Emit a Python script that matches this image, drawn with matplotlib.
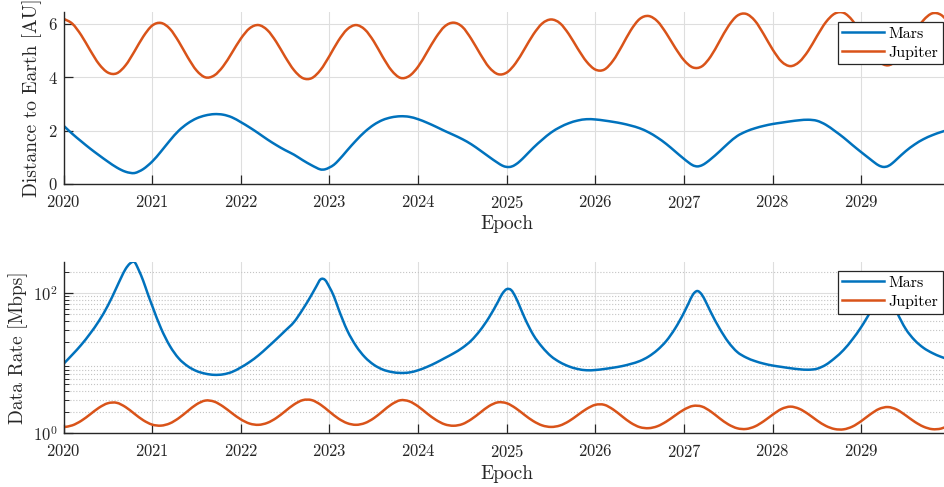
import numpy as np
import matplotlib
matplotlib.use("Agg")
import matplotlib.pyplot as plt
from matplotlib.path import Path
from matplotlib.patches import PathPatch
from matplotlib.lines import Line2D
from matplotlib.ticker import LogLocator, NullFormatter, FixedLocator

plt.rcParams['font.family'] = 'cmr10'
plt.rcParams['mathtext.fontset'] = 'cm'
plt.rcParams['axes.formatter.use_mathtext'] = True

# Mars: epochs (sampled denser around the close approaches)
mars_epoch = [
    2020.0, 2020.1, 2020.2, 2020.3, 2020.4, 2020.5, 2020.6, 2020.65, 2020.7, 2020.75,
    2020.8, 2020.85, 2020.9, 2020.95, 2021.0, 2021.1, 2021.2, 2021.3, 2021.4, 2021.5,
    2021.6, 2021.7, 2021.8, 2021.9, 2022.0, 2022.1, 2022.2, 2022.3, 2022.4, 2022.5,
    2022.6, 2022.7, 2022.8, 2022.85, 2022.9, 2022.95, 2023.0, 2023.05, 2023.1, 2023.2,
    2023.3, 2023.4, 2023.5, 2023.6, 2023.7, 2023.8, 2023.9, 2024.0, 2024.1, 2024.2,
    2024.3, 2024.4, 2024.5, 2024.6, 2024.7, 2024.8, 2024.9, 2024.95, 2025.0, 2025.05,
    2025.1, 2025.15, 2025.2, 2025.3, 2025.4, 2025.5, 2025.6, 2025.7, 2025.8, 2025.9,
    2026.0, 2026.1, 2026.2, 2026.3, 2026.4, 2026.5, 2026.6, 2026.7, 2026.8, 2026.9,
    2027.0, 2027.05, 2027.1, 2027.15, 2027.2, 2027.25, 2027.3, 2027.4, 2027.5, 2027.6,
    2027.7, 2027.8, 2027.9, 2028.0, 2028.1, 2028.2, 2028.3, 2028.4, 2028.5, 2028.6,
    2028.7, 2028.8, 2028.9, 2029.0, 2029.1, 2029.15, 2029.2, 2029.25, 2029.3, 2029.35,
    2029.4, 2029.5, 2029.6, 2029.7, 2029.8, 2029.9, 2030.0,
]
mars_dist = [
    2.19, 1.88, 1.60, 1.33, 1.08, 0.84, 0.62, 0.53, 0.46, 0.42,
    0.41, 0.47, 0.56, 0.69, 0.84, 1.22, 1.63, 2.00, 2.27, 2.46,
    2.57, 2.62, 2.60, 2.50, 2.32, 2.12, 1.90, 1.67, 1.46, 1.27,
    1.10, 0.89, 0.70, 0.615, 0.545, 0.55, 0.62, 0.72, 0.88, 1.26,
    1.63, 1.96, 2.22, 2.40, 2.50, 2.54, 2.52, 2.43, 2.30, 2.15,
    1.99, 1.84, 1.68, 1.49, 1.26, 1.02, 0.79, 0.69, 0.64, 0.65,
    0.73, 0.86, 1.02, 1.36, 1.66, 1.93, 2.13, 2.28, 2.38, 2.43,
    2.42, 2.38, 2.33, 2.27, 2.19, 2.09, 1.94, 1.74, 1.50, 1.22,
    0.94, 0.81, 0.70, 0.66, 0.70, 0.80, 0.93, 1.22, 1.53, 1.80,
    1.97, 2.09, 2.18, 2.25, 2.30, 2.35, 2.39, 2.41, 2.37, 2.22,
    1.99, 1.74, 1.46, 1.19, 0.93, 0.80, 0.69, 0.64, 0.67, 0.78,
    0.93, 1.23, 1.48, 1.68, 1.83, 1.95, 2.05,
]
mars_rate = [
    9.70, 13.16, 18.16, 26.29, 39.87, 65.90, 120.97, 165.5, 219.8, 263.6,
    276.6, 210.5, 148.3, 97.7, 65.90, 31.24, 17.50, 11.63, 9.02, 7.68,
    7.04, 6.77, 6.88, 7.44, 8.64, 10.35, 12.88, 16.67, 21.81, 28.83,
    38.43, 58.71, 94.9, 122.9, 156.6, 153.7, 121.0, 89.7, 60.05, 29.29,
    17.50, 12.10, 9.44, 8.07, 7.44, 7.21, 7.32, 7.87, 8.79, 10.06,
    11.74, 13.73, 16.48, 20.95, 29.29, 44.69, 74.5, 97.7, 113.5, 110.1,
    87.3, 62.87, 44.69, 25.14, 16.87, 12.48, 10.25, 8.95, 8.21, 7.87,
    7.94, 8.21, 8.57, 9.02, 9.70, 10.65, 12.36, 15.36, 20.67, 31.24,
    52.6, 70.9, 94.9, 106.7, 94.9, 72.7, 53.8, 31.24, 19.86, 14.35,
    11.98, 10.65, 9.78, 9.19, 8.79, 8.42, 8.14, 8.01, 8.28, 9.44,
    11.74, 15.36, 21.81, 32.84, 53.8, 72.7, 97.7, 113.5, 103.6, 76.4,
    53.8, 30.74, 21.23, 16.48, 13.89, 12.23, 11.06,
]

# Jupiter: epochs every 0.1 year
jupiter_epoch = np.round(np.arange(2020.0, 2030.05, 0.1), 1)
jupiter_dist = [
    6.20, 6.01, 5.58, 5.02, 4.50, 4.18, 4.15, 4.45, 4.97, 5.53,
    5.94, 6.04, 5.82, 5.34, 4.76, 4.26, 4.00, 4.07, 4.41, 4.92,
    5.45, 5.84, 5.96, 5.77, 5.33, 4.77, 4.27, 3.97, 3.97, 4.28,
    4.80, 5.37, 5.80, 5.96, 5.79, 5.35, 4.77, 4.26, 3.98, 4.05,
    4.40, 4.94, 5.49, 5.91, 6.05, 5.89, 5.44, 4.88, 4.38, 4.12,
    4.18, 4.53, 5.06, 5.61, 6.02, 6.17, 6.03, 5.62, 5.08, 4.59,
    4.29, 4.29, 4.63, 5.18, 5.77, 6.19, 6.30, 6.10, 5.65, 5.11,
    4.64, 4.37, 4.41, 4.78, 5.35, 5.92, 6.31, 6.38, 6.12, 5.61,
    5.04, 4.59, 4.42, 4.58, 4.99, 5.55, 6.07, 6.39, 6.42, 6.13,
    5.60, 5.02, 4.59, 4.45, 4.64, 5.10, 5.66, 6.14, 6.40, 6.34,
    5.99,
]
jupiter_rate = [
    1.210, 1.287, 1.493, 1.845, 2.296, 2.661, 2.700, 2.348, 1.883, 1.521,
    1.318, 1.275, 1.373, 1.631, 2.052, 2.562, 2.906, 2.807, 2.391, 1.921,
    1.566, 1.363, 1.309, 1.397, 1.637, 2.044, 2.551, 2.950, 2.950, 2.538,
    2.018, 1.612, 1.382, 1.309, 1.387, 1.625, 2.044, 2.562, 2.936, 2.835,
    2.402, 1.906, 1.543, 1.331, 1.270, 1.340, 1.571, 1.953, 2.424, 2.740,
    2.661, 2.266, 1.816, 1.478, 1.283, 1.221, 1.279, 1.472, 1.802, 2.207,
    2.527, 2.527, 2.169, 1.733, 1.397, 1.213, 1.172, 1.250, 1.457, 1.781,
    2.160, 2.435, 2.391, 2.035, 1.625, 1.327, 1.168, 1.142, 1.242, 1.478,
    1.831, 2.207, 2.380, 2.216, 1.867, 1.510, 1.262, 1.139, 1.128, 1.237,
    1.483, 1.845, 2.207, 2.348, 2.160, 1.788, 1.451, 1.233, 1.135, 1.157,
    1.296,
]

year_ticks = list(range(2020, 2030))

BLUE = '#0072BD'
ORANGE = '#D95319'
AXC = '#262626'
LW = 1.8


def smooth_line(ax, x, y, color, log=False):
    # draw the series as a smooth cubic Bezier path through the data points
    x = np.asarray(x, float)
    y = np.asarray(y, float)
    if log:
        y = np.log10(y)
    h = np.diff(x)
    d = np.diff(y) / h
    m = np.empty(len(x))
    m[0], m[-1] = d[0], d[-1]
    m[1:-1] = (d[1:] * h[:-1] + d[:-1] * h[1:]) / (h[:-1] + h[1:])
    verts = [(x[0], y[0])]
    codes = [Path.MOVETO]
    for i in range(len(x) - 1):
        verts += [(x[i] + h[i] / 3, y[i] + m[i] * h[i] / 3),
                  (x[i + 1] - h[i] / 3, y[i + 1] - m[i + 1] * h[i] / 3),
                  (x[i + 1], y[i + 1])]
        codes += [Path.CURVE4] * 3
    verts = np.array(verts)
    if log:
        verts[:, 1] = 10 ** verts[:, 1]
    ax.add_patch(PathPatch(Path(verts, codes), fill=False, edgecolor=color,
                           lw=LW, joinstyle='round', capstyle='butt'))


fig = plt.figure(figsize=(9.44, 4.87), dpi=100)
W, H = 944.0, 487.0
ax1 = fig.add_axes([63.5 / W, 1 - 184 / H, 886.5 / W, 172 / H])
ax2 = fig.add_axes([63.5 / W, 1 - 433 / H, 886.5 / W, 171 / H])


def style_axes(ax):
    for side in ['top', 'right']:
        ax.spines[side].set_visible(False)
    for side in ['left', 'bottom']:
        ax.spines[side].set_color(AXC)
        ax.spines[side].set_linewidth(1.0)
    ax.tick_params(which='major', direction='in', length=6.5, width=0.9,
                   colors=AXC, labelsize=12)
    ax.tick_params(which='minor', direction='in', length=3.6, width=0.7, colors=AXC)
    ax.tick_params(axis='x', pad=7)
    ax.tick_params(axis='y', pad=4)
    ax.set_axisbelow(True)
    ax.grid(True, which='major', color='#dedede', lw=0.8)
    ax.set_xlim(2020, 2030)
    ax.xaxis.set_major_locator(FixedLocator(year_ticks))
    ax.set_xlabel('Epoch', fontsize=14, color=AXC)


# top: distance
smooth_line(ax1, mars_epoch, mars_dist, BLUE)
smooth_line(ax1, jupiter_epoch, jupiter_dist, ORANGE)
style_axes(ax1)
ax1.set_ylim(0, 6.45)
ax1.set_yticks([0, 2, 4, 6])
ax1.set_ylabel('Distance to Earth [AU]', fontsize=14, color=AXC)
ax1.yaxis.set_label_coords(-0.0245, 0.5)
ax1.xaxis.set_label_coords(0.5, -0.182)

# bottom: data rate
smooth_line(ax2, mars_epoch, mars_rate, BLUE, log=True)
smooth_line(ax2, jupiter_epoch, jupiter_rate, ORANGE, log=True)
ax2.set_yscale('log')
style_axes(ax2)
ax2.set_ylim(1, 277)
ax2.yaxis.set_major_locator(FixedLocator([1, 100]))
ax2.yaxis.set_minor_locator(LogLocator(base=10, subs=np.arange(2, 10), numticks=20))
ax2.yaxis.set_minor_formatter(NullFormatter())
ax2.yaxis.grid(True, which='minor', color='#c4c4c4', ls=':', lw=0.8)
ax2.set_ylabel('Data Rate [Mbps]', fontsize=14, color=AXC)
ax2.yaxis.set_label_coords(-0.040, 0.5)
ax2.xaxis.set_label_coords(0.5, -0.187)

handles = [Line2D([], [], color=BLUE, lw=LW), Line2D([], [], color=ORANGE, lw=LW)]
for ax, ytop in [(ax1, 1 - 9.7 / 172), (ax2, 1 - 9.0 / 171)]:
    leg = ax.legend(handles, ['Mars', 'Jupiter'], loc='upper right',
                    bbox_to_anchor=(0.9925, ytop), fontsize=11.5,
                    fancybox=False, framealpha=1, edgecolor=AXC, borderaxespad=0,
                    borderpad=0.3, handlelength=2.6, handletextpad=0.3,
                    labelspacing=0.3)
    leg.get_frame().set_linewidth(0.9)

fig.savefig('out.png', dpi=100)
